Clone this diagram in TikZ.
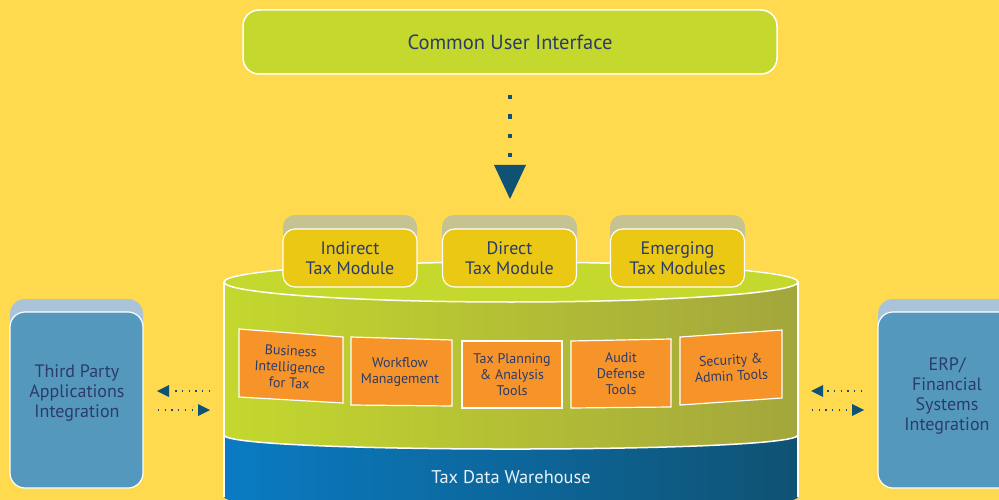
\documentclass[tikz,border=0pt]{standalone}
\usepackage{fontspec}
\setmainfont{PT Sans}
\definecolor{bgY}{HTML}{FFDA4F}
\definecolor{limeA}{HTML}{C4D82E}
\definecolor{oliveB}{HTML}{A3A63C}
\definecolor{navyT}{HTML}{2B3B6A}
\definecolor{tealD}{HTML}{0F5273}
\definecolor{blueA}{HTML}{0A7BC3}
\definecolor{tabK}{HTML}{C6C392}
\definecolor{modY}{HTML}{EAC814}
\definecolor{orgO}{HTML}{F6942A}
\definecolor{sideB}{HTML}{5499BD}
\definecolor{sideT}{HTML}{A9C4D8}
\begin{document}
\begin{tikzpicture}[x=1pt,y=-1pt,
  lbl/.style={text=navyT,align=center,font=\fontsize{18}{20}\selectfont},
  olbl/.style={text=navyT,align=center,font=\fontsize{14}{16}\selectfont},
  modbox/.style={draw=white,line width=1.2pt,fill=modY,rounded corners=12pt,minimum width=134pt,minimum height=58pt,lbl},
  tabbox/.style={fill=tabK,rounded corners=12pt},
  orgbox/.style={fill=orgO,draw=white,line width=1.2pt},
  sidebox/.style={draw=white,line width=1.2pt,fill=sideB,rounded corners=15pt,minimum width=133pt,minimum height=176pt,lbl},
  sidetab/.style={fill=sideT,rounded corners=15pt},
  dotline/.style={draw=tealD,line width=1.3pt,dash pattern=on 1.3pt off 5.4pt},
  tipfill/.style={fill=tealD}]
\fill[bgY] (0,0) rectangle (999,500);
\useasboundingbox (0,0) rectangle (999,500);

% top interface
\node[draw=white,line width=1.5pt,fill=limeA,rounded corners=16pt,minimum width=534pt,minimum height=64pt,lbl,font=\fontsize{20.5}{22}\selectfont] (ui) at (510,42) {Common User Interface};

% dotted arrow down
\coordinate (dtop) at (510,95);
\coordinate (dbot) at (510,158);
\draw[tealD,line width=4.5pt,dash pattern=on 4.5pt off 14.8pt] (dtop) -- (dbot);
\coordinate (tip) at (510,199);
\fill[tipfill] (494,165) -- (526,165) -- (tip) -- cycle;

% cylinder body (green)
\shade[left color=limeA,right color=oliveB]
  (224,282) -- (224,435) .. controls (224,453.7) and (798,453.7) .. (798,435)
  -- (798,282) .. controls (798,255.3) and (224,255.3) .. (224,282) -- cycle;
% blue band
\shade[left color=blueA,right color=tealD]
  (224,435) .. controls (224,453.7) and (798,453.7) .. (798,435)
  -- (798,497) .. controls (798,515.7) and (224,515.7) .. (224,497) -- cycle;
\draw[white,line width=1.5pt] (224,435) .. controls (224,453.7) and (798,453.7) .. (798,435);
\draw[white,line width=1.2pt] (224,282) -- (224,497);
\draw[white,line width=1.2pt] (798,282) -- (798,497);
\node[text=white!90!blueA,font=\fontsize{18.4}{20}\selectfont] (dw) at (511,477) {Tax Data Warehouse};

% module tabs (back)
\fill[tabK] (283,275) -- (283,227) [rounded corners=12pt] -- (283,215) -- (417,215) [sharp corners] -- (417,275) -- cycle;
\fill[tabK] (442,275) -- (442,227) [rounded corners=12pt] -- (442,215) -- (577,215) [sharp corners] -- (577,275) -- cycle;
\fill[tabK] (610,275) -- (610,227) [rounded corners=12pt] -- (610,215) -- (745,215) [sharp corners] -- (745,275) -- cycle;

% top ellipse
\draw[white,line width=1.5pt,fill=limeA] (511,282) ellipse [x radius=287pt, y radius=20pt];

% module boxes
\node[modbox] (m1) at (350,258) {Indirect\\Tax Module};
\node[modbox] (m2) at (509.5,258) {Direct\\Tax Module};
\node[modbox] (m3) at (677.5,258) {Emerging\\Tax Modules};

% orange tools
\filldraw[orgbox] (239,329) -- (343,337) -- (343,403) -- (239,397) -- cycle;
\filldraw[orgbox] (351,337) -- (452,340) -- (452,406) -- (351,405) -- cycle;
\filldraw[orgbox] (462,341) -- (562,341) -- (562,408) -- (462,408) -- cycle;
\filldraw[orgbox] (571,341) -- (671,339) -- (671,407) -- (571,408) -- cycle;
\filldraw[orgbox] (680,337) -- (782,330) -- (782,398) -- (680,405) -- cycle;
\node[olbl,rotate=-3] (o1) at (290,367) {Business\\Intelligence\\for Tax};
\node[olbl] (o2) at (400,372) {Workflow\\Management};
\node[olbl] (o3) at (512,375) {Tax Planning\\\& Analysis\\Tools};
\node[olbl] (o4) at (621,374) {Audit\\Defense\\Tools};
\node[olbl,rotate=3] (o5) at (731,368) {Security \&\\Admin Tools};

% side boxes
\fill[sidetab] (10,299) rectangle (143,400);
\node[sidebox] (left) at (76.5,400) {};
\node[lbl] (ltxt) at (77,393) {Third Party\\Applications\\Integration};
\fill[sidetab] (878,299) rectangle (1030,400);
\node[sidebox,minimum width=152pt] (right) at (954,400) {};
\node[lbl] (rtxt) at (947,396) {ERP/\\Financial\\Systems\\Integration};

% side arrows
\coordinate (la1) at (210,391); \coordinate (la1b) at (172,391);
\draw[dotline] (la1) -- (la1b);
\fill[tipfill] (157,391) -- (169,385) -- (169,397) -- cycle;
\coordinate (la2) at (158,410); \coordinate (la2b) at (196,410);
\draw[dotline] (la2) -- (la2b);
\fill[tipfill] (210,410) -- (198,404) -- (198,416) -- cycle;
\coordinate (ra1) at (862,391); \coordinate (ra1b) at (826,391);
\draw[dotline] (ra1) -- (ra1b);
\fill[tipfill] (811,391) -- (823,385) -- (823,397) -- cycle;
\coordinate (ra2) at (812,410); \coordinate (ra2b) at (849,410);
\draw[dotline] (ra2) -- (ra2b);
\fill[tipfill] (864,410) -- (852,404) -- (852,416) -- cycle;
\end{tikzpicture}
\end{document}
